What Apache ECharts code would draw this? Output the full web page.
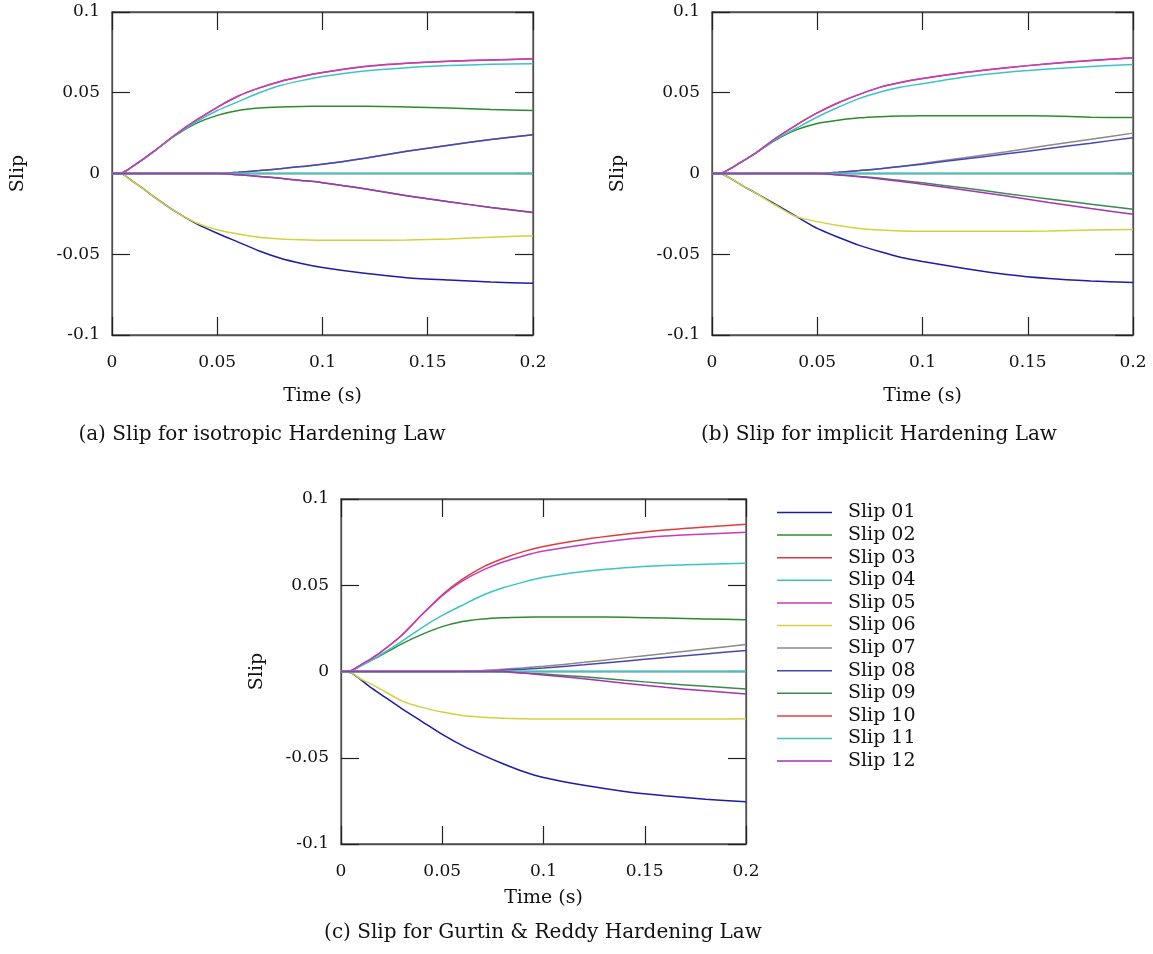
<!DOCTYPE html>
<html>
<head>
<meta charset="utf-8">
<script src="https://cdn.jsdelivr.net/npm/echarts@6/dist/echarts.min.js"></script>
<style>
  html, body { margin: 0; padding: 0; background: #ffffff; }
  #chart { width: 1153px; height: 954px; }
</style>
</head>
<body>
<div id="chart"></div>
<script>
// Sample times (s) shared by every slip history
const time = [0, 0.005, 0.01, 0.015, 0.02, 0.03, 0.04, 0.05, 0.06, 0.07, 0.08, 0.09, 0.1, 0.12, 0.14, 0.16, 0.18, 0.2];

const slipNames = ['Slip 01', 'Slip 02', 'Slip 03', 'Slip 04', 'Slip 05', 'Slip 06',
                   'Slip 07', 'Slip 08', 'Slip 09', 'Slip 10', 'Slip 11', 'Slip 12'];
const slipColors = ['#1c1ca8', '#2e8a2e', '#e03c3c', '#3cc4c4', '#c23cc2', '#d2d23c',
                    '#8a8a8a', '#4646b8', '#3a8a4a', '#e04444', '#40c4c0', '#a632b4'];
// the flat Slip 11 history is drawn a little heavier so it stays visible over Slip 10
const slipWidths = [1.5, 1.5, 1.5, 1.5, 1.5, 1.5, 1.5, 1.5, 1.5, 1.5, 2.2, 1.5];

const xTickLabels = ['0', '0.05', '0.1', '0.15', '0.2'];
const yTickLabels = ['-0.1', '-0.05', '0', '0.05', '0.1'];

// (a) isotropic hardening law
const isoSlip01 = [0, -0.0005, -0.005, -0.0095, -0.0145, -0.0235, -0.031, -0.037, -0.0425, -0.048, -0.0525, -0.0557, -0.0582, -0.0618, -0.0645, -0.066, -0.0672, -0.068];
const isoSlip02 = [0, 0.0005, 0.0045, 0.009, 0.0138, 0.0235, 0.031, 0.036, 0.039, 0.0405, 0.0412, 0.0415, 0.0416, 0.0416, 0.0412, 0.0405, 0.0396, 0.039];
const isoSlip03 = [0, 0.0005, 0.0045, 0.009, 0.0138, 0.024, 0.033, 0.041, 0.048, 0.053, 0.057, 0.060, 0.0625, 0.0662, 0.0682, 0.0695, 0.0703, 0.071];
const isoSlip04 = [0, 0.0005, 0.0045, 0.009, 0.0138, 0.0238, 0.032, 0.039, 0.0445, 0.050, 0.0545, 0.0575, 0.060, 0.0635, 0.0655, 0.0668, 0.0676, 0.068];
const isoSlip05 = [0, 0.0005, 0.0045, 0.009, 0.0138, 0.024, 0.033, 0.041, 0.048, 0.053, 0.057, 0.060, 0.0625, 0.0662, 0.0682, 0.0695, 0.0703, 0.071];
const isoSlip06 = [0, -0.0005, -0.005, -0.0095, -0.0145, -0.0235, -0.0305, -0.0348, -0.0375, -0.0395, -0.0405, -0.041, -0.0413, -0.0414, -0.0412, -0.0405, -0.0395, -0.0385];
const isoSlip07 = [0, 0, 0, 0, 0, 0, 0, 0, 0.0008, 0.0018, 0.003, 0.0043, 0.0057, 0.0095, 0.0138, 0.0175, 0.021, 0.024];
const isoSlip08 = [0, 0, 0, 0, 0, 0, 0, 0, 0.0008, 0.0018, 0.003, 0.0043, 0.0057, 0.0095, 0.0138, 0.0175, 0.021, 0.024];
const isoSlip09 = [0, 0, 0, 0, 0, 0, 0, 0, -0.0008, -0.0018, -0.003, -0.0043, -0.0057, -0.0095, -0.0138, -0.0175, -0.021, -0.0242];
const isoSlip10 = [0, 0, 0, 0, 0, 0, 0, 0, 0, 0, 0, 0, 0, 0, 0, 0, 0, 0];
const isoSlip11 = [0, 0, 0, 0, 0, 0, 0, 0, 0, 0, 0, 0, 0, 0, 0, 0, 0, 0];
const isoSlip12 = [0, 0, 0, 0, 0, 0, 0, 0, -0.0008, -0.0018, -0.003, -0.0043, -0.0057, -0.0095, -0.0138, -0.0175, -0.021, -0.0242];

// (b) implicit hardening law
const impSlip01 = [0, -0.0005, -0.004, -0.008, -0.0115, -0.019, -0.0265, -0.034, -0.0395, -0.0445, -0.0485, -0.052, -0.0545, -0.0588, -0.0625, -0.065, -0.0665, -0.0675];
const impSlip02 = [0, 0.0005, 0.004, 0.008, 0.012, 0.0205, 0.027, 0.031, 0.033, 0.0345, 0.0352, 0.0356, 0.0358, 0.0358, 0.0358, 0.0356, 0.0349, 0.0346];
const impSlip03 = [0, 0.0005, 0.004, 0.008, 0.012, 0.0216, 0.030, 0.0375, 0.0438, 0.049, 0.0535, 0.0565, 0.0588, 0.0625, 0.0655, 0.068, 0.070, 0.0716];
const impSlip04 = [0, 0.0005, 0.004, 0.008, 0.012, 0.021, 0.028, 0.035, 0.041, 0.0465, 0.0505, 0.0535, 0.0556, 0.0598, 0.0627, 0.0647, 0.0663, 0.0675];
const impSlip05 = [0, 0.0005, 0.004, 0.008, 0.012, 0.0216, 0.030, 0.0375, 0.0438, 0.049, 0.0535, 0.0565, 0.0588, 0.0625, 0.0655, 0.068, 0.070, 0.0716];
const impSlip06 = [0, -0.0005, -0.004, -0.008, -0.0115, -0.0195, -0.0267, -0.0298, -0.0322, -0.034, -0.035, -0.0356, -0.0358, -0.0358, -0.0358, -0.0356, -0.035, -0.0346];
const impSlip07 = [0, 0, 0, 0, 0, 0, 0, 0, 0.0008, 0.0018, 0.003, 0.0045, 0.0062, 0.0098, 0.0135, 0.0175, 0.0212, 0.025];
const impSlip08 = [0, 0, 0, 0, 0, 0, 0, 0, 0.0008, 0.0018, 0.003, 0.0044, 0.0058, 0.009, 0.0122, 0.0155, 0.0188, 0.0222];
const impSlip09 = [0, 0, 0, 0, 0, 0, 0, 0, -0.0008, -0.0018, -0.003, -0.0044, -0.0058, -0.009, -0.0125, -0.0158, -0.019, -0.0222];
const impSlip10 = [0, 0, 0, 0, 0, 0, 0, 0, 0, 0, 0, 0, 0, 0, 0, 0, 0, 0];
const impSlip11 = [0, 0, 0, 0, 0, 0, 0, 0, 0, 0, 0, 0, 0, 0, 0, 0, 0, 0];
const impSlip12 = [0, 0, 0, 0, 0, 0, 0, 0, -0.0009, -0.002, -0.0034, -0.005, -0.0066, -0.0102, -0.014, -0.018, -0.0217, -0.0253];

// (c) Gurtin & Reddy hardening law
const grSlip01 = [0, -0.0008, -0.005, -0.0095, -0.0135, -0.0215, -0.029, -0.0365, -0.043, -0.0485, -0.0535, -0.058, -0.0615, -0.066, -0.0695, -0.072, -0.074, -0.0755];
const grSlip02 = [0, 0.0005, 0.0035, 0.0065, 0.0095, 0.016, 0.0215, 0.026, 0.029, 0.0305, 0.0312, 0.0315, 0.0316, 0.0316, 0.0314, 0.031, 0.0305, 0.030];
const grSlip03 = [0, 0.0005, 0.004, 0.0075, 0.0115, 0.021, 0.033, 0.0445, 0.0535, 0.0605, 0.0655, 0.0695, 0.0725, 0.0765, 0.0795, 0.082, 0.0838, 0.0853];
const grSlip04 = [0, 0.0005, 0.0035, 0.0065, 0.010, 0.0175, 0.0255, 0.0325, 0.0385, 0.0442, 0.0485, 0.0518, 0.0546, 0.058, 0.0602, 0.0615, 0.0622, 0.0627];
const grSlip05 = [0, 0.0005, 0.004, 0.0075, 0.0115, 0.021, 0.033, 0.044, 0.0525, 0.0588, 0.0635, 0.067, 0.0698, 0.0735, 0.0765, 0.0785, 0.0797, 0.0807];
const grSlip06 = [0, -0.0008, -0.0045, -0.0073, -0.0105, -0.017, -0.0208, -0.0235, -0.0255, -0.0265, -0.0271, -0.0274, -0.0276, -0.0276, -0.0276, -0.0275, -0.0275, -0.0274];
const grSlip07 = [0, 0, 0, 0, 0, 0, 0, 0, 0.0002, 0.0006, 0.0013, 0.0021, 0.003, 0.0053, 0.0079, 0.0104, 0.013, 0.0156];
const grSlip08 = [0, 0, 0, 0, 0, 0, 0, 0, 0, 0, 0.0007, 0.0013, 0.002, 0.0039, 0.006, 0.0081, 0.0102, 0.0122];
const grSlip09 = [0, 0, 0, 0, 0, 0, 0, 0, 0, 0, -0.0003, -0.0008, -0.0015, -0.0031, -0.0051, -0.0069, -0.0086, -0.0102];
const grSlip10 = [0, 0, 0, 0, 0, 0, 0, 0, 0, 0, 0, 0, 0, 0, 0, 0, 0, 0];
const grSlip11 = [0, 0, 0, 0, 0, 0, 0, 0, 0, 0, 0, 0, 0, 0, 0, 0, 0, 0];
const grSlip12 = [0, 0, 0, 0, 0, 0, 0, 0, 0, 0, 0, -0.0009, -0.002, -0.0042, -0.0068, -0.0092, -0.0112, -0.0131];

const panels = [
  { caption: '(a) Slip for isotropic Hardening Law',
    slips: [isoSlip01, isoSlip02, isoSlip03, isoSlip04, isoSlip05, isoSlip06, isoSlip07, isoSlip08, isoSlip09, isoSlip10, isoSlip11, isoSlip12] },
  { caption: '(b) Slip for implicit Hardening Law',
    slips: [impSlip01, impSlip02, impSlip03, impSlip04, impSlip05, impSlip06, impSlip07, impSlip08, impSlip09, impSlip10, impSlip11, impSlip12] },
  { caption: '(c) Slip for Gurtin & Reddy Hardening Law',
    slips: [grSlip01, grSlip02, grSlip03, grSlip04, grSlip05, grSlip06, grSlip07, grSlip08, grSlip09, grSlip10, grSlip11, grSlip12] }
];

// Layout of the three plot frames
const frames = [
  { left: 112, top: 12, width: 421, height: 323, xNameGap: 52, yNameGap: 84, captionX: 262, captionY: 435 },
  { left: 712, top: 12, width: 421, height: 323, xNameGap: 52, yNameGap: 84, captionX: 879, captionY: 435 },
  { left: 341, top: 499, width: 405, height: 345, xNameGap: 45, yNameGap: 74, captionX: 543, captionY: 933 }
];

const FONT = 'DejaVu Serif';
const frameColor = '#505050';

const grid = [], xAxis = [], yAxis = [], series = [], graphic = [];

frames.forEach((f, p) => {
  grid.push({ left: f.left, top: f.top, width: f.width, height: f.height,
              show: true, borderColor: frameColor, borderWidth: 1.3, backgroundColor: '#fff' });

  const tickStyle = { show: true, inside: true, length: 18, lineStyle: { color: '#222', width: 1.2 } };
  // bottom axis with labels
  xAxis.push({
    gridIndex: p, type: 'value', min: 0, max: 0.2, interval: 0.05, position: 'bottom',
    name: 'Time (s)', nameLocation: 'middle', nameGap: f.xNameGap,
    nameTextStyle: { fontFamily: FONT, fontSize: 19, color: '#111' },
    axisLine: { show: true, onZero: false, lineStyle: { color: frameColor, width: 1.3 } },
    axisTick: tickStyle, splitLine: { show: false },
    axisLabel: { fontFamily: FONT, fontSize: 17, color: '#111', margin: 19,
                 formatter: v => xTickLabels[Math.round(v / 0.05)] }
  });
  // mirrored ticks along the top edge
  xAxis.push({
    gridIndex: p, type: 'value', min: 0, max: 0.2, interval: 0.05, position: 'top',
    axisLine: { show: true, onZero: false, lineStyle: { color: frameColor, width: 1.3 } },
    axisTick: tickStyle, splitLine: { show: false }, axisLabel: { show: false }
  });
  yAxis.push({
    gridIndex: p, type: 'value', min: -0.1, max: 0.1, interval: 0.05, position: 'left',
    name: 'Slip', nameLocation: 'middle', nameGap: f.yNameGap, nameRotate: 90,
    nameTextStyle: { fontFamily: FONT, fontSize: 19, color: '#111' },
    axisLine: { show: true, onZero: false, lineStyle: { color: frameColor, width: 1.3 } },
    axisTick: tickStyle, splitLine: { show: false },
    axisLabel: { fontFamily: FONT, fontSize: 17, color: '#111', margin: 12,
                 formatter: v => yTickLabels[Math.round(v / 0.05) + 2] }
  });
  yAxis.push({
    gridIndex: p, type: 'value', min: -0.1, max: 0.1, interval: 0.05, position: 'right',
    axisLine: { show: true, onZero: false, lineStyle: { color: frameColor, width: 1.3 } },
    axisTick: tickStyle, splitLine: { show: false }, axisLabel: { show: false }
  });

  panels[p].slips.forEach((vals, s) => {
    series.push({
      name: slipNames[s], type: 'line', xAxisIndex: 2 * p, yAxisIndex: 2 * p,
      data: time.map((t, i) => [t, vals[i]]),
      symbol: 'none', smooth: 0.25,
      lineStyle: { color: slipColors[s], width: slipWidths[s] },
      itemStyle: { color: slipColors[s] },
      silent: true, animation: false
    });
  });

  graphic.push({
    type: 'text', x: f.captionX, y: f.captionY,
    style: { text: panels[p].caption, font: '20px "' + FONT + '"', fill: '#111',
             align: 'center', verticalAlign: 'middle' }
  });
});

const chart = echarts.init(document.getElementById('chart'), null, { renderer: 'canvas' });
chart.setOption({
  backgroundColor: '#ffffff',
  animation: false,
  grid, xAxis, yAxis, series, graphic,
  legend: {
    data: slipNames, orient: 'vertical', left: 772, top: 498,
    icon: 'rect', itemWidth: 55, itemHeight: 1.5, itemGap: 3.6,
    selectedMode: false,
    textStyle: { fontFamily: FONT, fontSize: 19, color: '#111', padding: [0, 0, 0, 11] }
  }
});
</script>
</body>
</html>
